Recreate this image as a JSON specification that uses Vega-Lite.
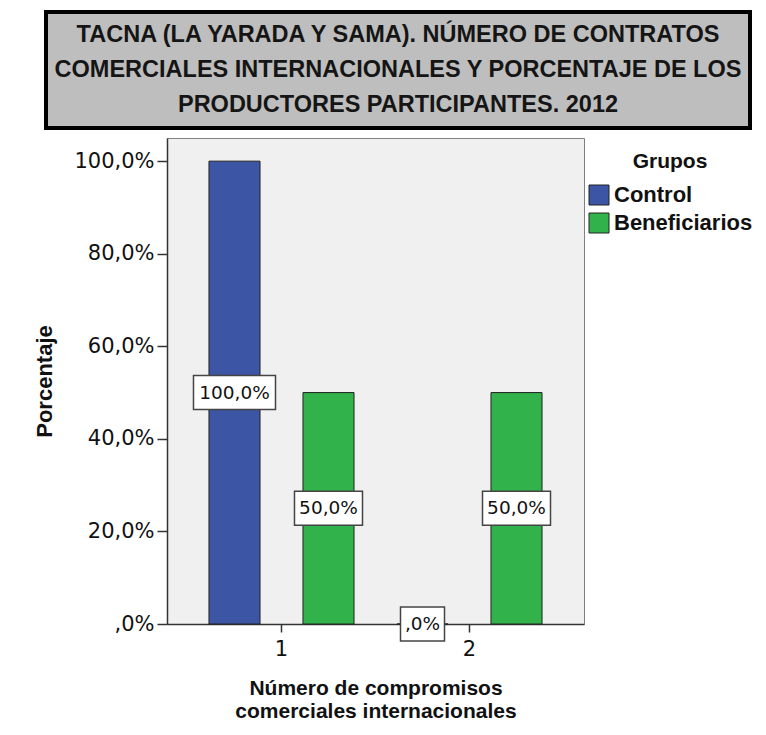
{
  "$schema": "https://vega.github.io/schema/vega-lite/v6.json",
  "padding": {"left": 33, "top": 10, "right": 0, "bottom": 0},
  "background": "white",
  "spacing": 7,
  "resolve": {"legend": {"color": "independent"}, "scale": {"color": "independent"}},
  "config": {"font": "Liberation Sans", "view": {"stroke": null}},
  "vconcat": [
    {
      "width": 704,
      "height": 116,
      "view": {"fill": "#BEBEBE", "stroke": "#000000", "strokeWidth": 4},
      "data": {"values": [{}]},
      "mark": {
        "type": "text",
        "text": ["TACNA (LA YARADA Y SAMA). NÚMERO DE CONTRATOS", "COMERCIALES INTERNACIONALES  Y PORCENTAJE DE LOS", "PRODUCTORES  PARTICIPANTES. 2012"],
        "font": "Liberation Sans",
        "fontWeight": "bold",
        "fontSize": 23.5,
        "lineHeight": 35,
        "dy": -35,
        "color": "#151515",
        "align": "center",
        "baseline": "middle"
      },
      "encoding": {}
    },
    {
      "spacing": -14,
      "resolve": {"legend": {"color": "independent"}, "scale": {"color": "independent"}},
      "hconcat": [
        {
          "width": 1,
          "height": 10,
          "data": {"values": []},
          "mark": "point",
          "encoding": {}
        },
        {
          "width": 417,
          "height": 486,
          "view": {"fill": "#F0F0F0", "stroke": "#808080", "strokeWidth": 1},
          "data": {
            "values": [
              {"n": "1", "grupo": "Control", "pct": 100},
              {"n": "1", "grupo": "Beneficiarios", "pct": 50},
              {"n": "2", "grupo": "Control", "pct": 0},
              {"n": "2", "grupo": "Beneficiarios", "pct": 50}
            ]
          },
          "transform": [
            {"calculate": "datum.pct / 2", "as": "mid"},
            {"calculate": "datum.pct == 0 ? ',0%' : replace(format(datum.pct, '.1f'), '.', ',') + '%'", "as": "etiqueta"}
          ],
          "encoding": {
            "x": {
              "field": "n",
              "type": "nominal",
              "scale": {"paddingInner": 0, "paddingOuter": 0.109},
              "axis": {
                "title": ["Número de compromisos", "comerciales internacionales"],
                "labelAngle": 0,
                "labelFont": "DejaVu Sans",
                "labelFontSize": 21,
                "labelColor": "#111111",
                "tickSize": 8,
                "tickColor": "#333333",
                "tickWidth": 1.5,
                "labelPadding": 6,
                "domainColor": "#333333",
                "domainWidth": 1.5,
                "titleFont": "Liberation Sans",
                "titleFontWeight": "bold",
                "titleFontSize": 21,
                "titleColor": "#111111",
                "titleLineHeight": 23,
                "titlePadding": 18,
                "zindex": 0
              }
            },
            "xOffset": {
              "field": "grupo",
              "type": "nominal",
              "sort": ["Control", "Beneficiarios"],
              "scale": {"paddingInner": 0.457, "paddingOuter": 0.2285}
            }
          },
          "layer": [
            {
              "mark": {"type": "bar", "stroke": "#222222", "strokeWidth": 1},
              "encoding": {
                "y": {
                  "field": "pct",
                  "type": "quantitative",
                  "scale": {"domain": [0, 105], "nice": false},
                  "axis": {
                    "title": "Porcentaje",
                    "values": [0, 20, 40, 60, 80, 100],
                    "labelExpr": "datum.value == 0 ? ',0%' : replace(format(datum.value, '.1f'), '.', ',') + '%'",
                    "labelFont": "DejaVu Sans",
                    "labelFontSize": 21,
                    "labelColor": "#111111",
                    "tickSize": 10,
                    "tickColor": "#333333",
                    "tickWidth": 1.5,
                    "labelPadding": 3,
                    "domainColor": "#333333",
                    "domainWidth": 1.5,
                    "grid": false,
                    "titleFont": "Liberation Sans",
                    "titleFontWeight": "bold",
                    "titleFontSize": 22,
                    "titleColor": "#111111",
                    "titlePadding": 17,
                    "zindex": 0
                  }
                },
                "color": {
                  "field": "grupo",
                  "type": "nominal",
                  "scale": {"domain": ["Control", "Beneficiarios"], "range": ["#3D55A5", "#31B24B"]},
                  "legend": {
                    "title": "Grupos",
                    "orient": "right",
                    "offset": -9,
                    "padding": 13,
                    "titleFont": "Liberation Sans",
                    "titleFontSize": 21,
                    "titleFontWeight": "bold",
                    "titleColor": "#111111",
                    "titleAnchor": "middle",
                    "titleAlign": "center",
                    "titlePadding": 12,
                    "labelFont": "Liberation Sans",
                    "labelFontSize": 22,
                    "labelFontWeight": "bold",
                    "labelColor": "#111111",
                    "labelOffset": 4,
                    "symbolType": "square",
                    "symbolSize": 400,
                    "symbolStrokeColor": "#222222",
                    "symbolStrokeWidth": 1,
                    "rowPadding": 4
                  }
                }
              }
            },
            {
              "mark": {"type": "point", "filled": true, "fill": "white", "stroke": "#444444", "strokeWidth": 1.5, "size": 4, "opacity": 1},
              "encoding": {
                "y": {"field": "mid", "type": "quantitative", "title": "Porcentaje"},
                "shape": {
                  "condition": [
                    {"test": "datum.pct == 100", "value": "M-41,-17H41V17H-41Z"},
                    {"test": "datum.pct == 0", "value": "M-22,-17H22V17H-22Z"}
                  ],
                  "value": "M-34,-17H34V17H-34Z"
                }
              }
            },
            {
              "mark": {"type": "text", "font": "DejaVu Sans", "fontSize": 18.5, "color": "#111111"},
              "encoding": {
                "y": {"field": "mid", "type": "quantitative", "title": "Porcentaje"},
                "text": {"field": "etiqueta", "type": "nominal"}
              }
            }
          ]
        }
      ]
    }
  ]
}
